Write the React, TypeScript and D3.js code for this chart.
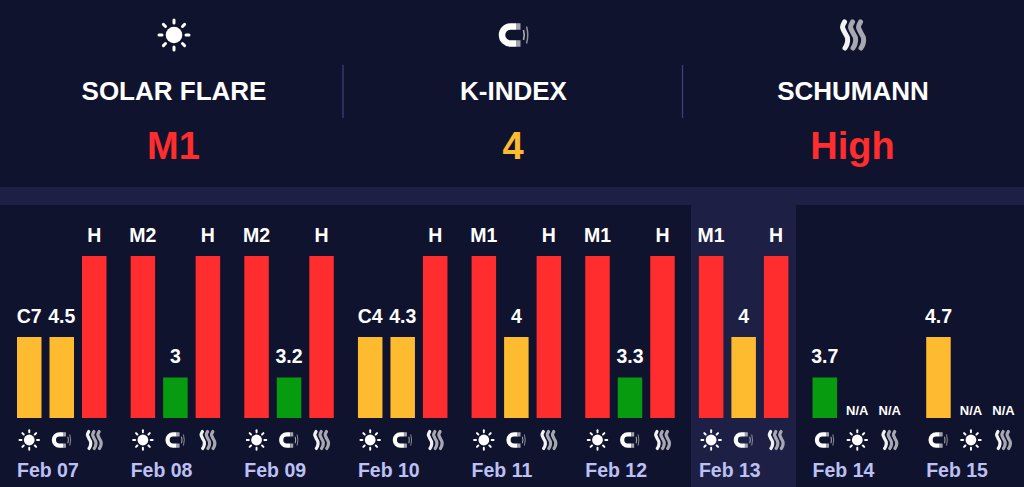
import React from "react";
import * as d3 from "d3";

const days = ["Feb 07","Feb 08","Feb 09","Feb 10","Feb 11","Feb 12","Feb 13","Feb 14","Feb 15"];
const flareLabels = ["C7","M2","M2","C4","M1","M1","M1","N/A","N/A"];
const flareLevels = [2,4,4,2,4,4,4,0,0];
const kLabels = ["4.5","3","3.2","4.3","4","3.3","4","3.7","4.7"];
const kLevels = [2,1,1,2,2,1,2,1,2];
const schLabels = ["H","H","H","H","H","H","H","N/A","N/A"];
const schLevels = [4,4,4,4,4,4,4,0,0];
const kFirst = ["Feb 14","Feb 15"];
const headerTitles = ["SOLAR FLARE","K-INDEX","SCHUMANN"];
const headerValues = ["M1","4","High"];
const headerKinds = ["sun","magnet","wave"];
const headerColors = ["#ff2d2d","#ffbb2f","#ff2d2d"];
const levelColors = ["none","#079b0f","#ffbb2f","#ffbb2f","#ff2d2d"];

const W = 1024, H = 487;
const BG = "#10132e", BAND = "#1d2044";
const FONT = "'Liberation Sans', Arial, sans-serif";

const x = d3.scaleBand<string>().domain(days).range([17, 17 + 113.65 * 9]);
const slot = d3.scaleBand<number>().domain([0, 1, 2]).range([0, 89.5]).paddingInner(0.2462).paddingOuter(0);
const y = d3.scaleLinear().domain([0, 4]).range([418, 256]);
const headerX = d3.scalePoint<number>().domain([0, 1, 2]).range([174, 853]);

const wavePath = d3.line<[number, number]>().curve(d3.curveCatmullRom);
const wavePoints: [number, number][] = [[-0.5, -13], [-2.5, -8], [-0.5, -3], [2.5, 3], [2, 9], [0, 13]];

function Icon({ kind, cx, cy, s }: { kind: string; cx: number; cy: number; s: number }) {
  if (kind === "sun") {
    const rays = d3.range(8).map(i => (i * Math.PI) / 4);
    return (
      <g transform={`translate(${cx},${cy}) scale(${s})`}>
        <circle r={8.3} fill="#fff" />
        {rays.map((a, i) => (
          <line key={i} x1={Math.cos(a) * 12} y1={Math.sin(a) * 12} x2={Math.cos(a) * 15} y2={Math.sin(a) * 15}
            stroke="#fff" strokeWidth={3} strokeLinecap="round" />
        ))}
      </g>
    );
  }
  if (kind === "magnet") {
    return (
      <g transform={`translate(${cx},${cy}) scale(${s})`} fill="none">
        <path d="M5,-8.5 H-0.5 A8.5,8.5 0 0 0 -0.5,8.5 H5" stroke="#fff" strokeWidth={6.5} />
        <path d="M5,-8.5 H9.5 M5,8.5 H9.5" stroke="#a4a4ae" strokeWidth={6.5} />
        <path d="M12.5,-5 Q14,0 12.5,5" stroke="#b4b4bc" strokeWidth={1.5} />
        <path d="M15.5,-8.5 Q18,0 15.5,8.5" stroke="#8f8f9a" strokeWidth={1.5} />
      </g>
    );
  }
  const d = wavePath(wavePoints) || "";
  return (
    <g transform={`translate(${cx},${cy}) scale(${s})`} fill="none" strokeLinecap="round">
      <path d={d} transform="translate(-8,0)" stroke="#f2f2f5" strokeWidth={5} />
      <path d={d} transform="translate(0,0)" stroke="#a8a8b2" strokeWidth={5} />
      <path d={d} transform="translate(8,0)" stroke="#a8a8b2" strokeWidth={5} />
      <path d={d} transform="translate(-4,0)" stroke="#10132e" strokeWidth={0.8} strokeOpacity={0.7} />
      <path d={d} transform="translate(4,0)" stroke="#10132e" strokeWidth={0.8} strokeOpacity={0.7} />
    </g>
  );
}

export default function App() {
  const bw = slot.bandwidth();
  return (
    <svg width={W} height={H} viewBox={`0 0 ${W} ${H}`}
      style={{ position: "absolute", left: 0, top: 0, display: "block", background: BG, fontFamily: FONT }}>
      <rect x={0} y={187} width={W} height={18} fill={BAND} />
      <rect x={691} y={205} width={105} height={282} fill={BAND} />
      <line x1={343} x2={343} y1={65} y2={118} stroke="#3d4183" strokeWidth={1.2} />
      <line x1={682.5} x2={682.5} y1={65} y2={118} stroke="#3d4183" strokeWidth={1.2} />
      {headerTitles.map((t, i) => (
        <g key={t}>
          <Icon kind={headerKinds[i]} cx={headerKinds[i] === "magnet" ? 511 : headerX(i)!} cy={35} s={1} />
          <text x={headerX(i)} y={100} textAnchor="middle" fontSize={26} fontWeight={700} fill="#fff">{t}</text>
          <text x={headerX(i)! - 0.5} y={158.5} textAnchor="middle" fontSize={38} fontWeight={700} fill={headerColors[i]}>{headerValues[i]}</text>
        </g>
      ))}
      {days.map((day, i) => {
        const x0 = x(day)!;
        const kIsFirst = kFirst.includes(day);
        const items = kIsFirst
          ? [
              { label: kLabels[i], level: kLevels[i], kind: "magnet" },
              { label: flareLabels[i], level: flareLevels[i], kind: "sun" },
              { label: schLabels[i], level: schLevels[i], kind: "wave" },
            ]
          : [
              { label: flareLabels[i], level: flareLevels[i], kind: "sun" },
              { label: kLabels[i], level: kLevels[i], kind: "magnet" },
              { label: schLabels[i], level: schLevels[i], kind: "wave" },
            ];
        return (
          <g key={day}>
            {items.map((it, j) => {
              const bx = x0 + slot(j)!;
              const cx = bx + bw / 2;
              const na = it.label === "N/A";
              return (
                <g key={j}>
                  {it.level > 0 && (
                    <rect x={bx} y={y(it.level)} width={bw} height={y(0) - y(it.level)} fill={levelColors[it.level]} />
                  )}
                  <text x={cx} y={na ? 414.5 : y(it.level) - 14.5} textAnchor="middle"
                    fontSize={na ? 13 : 19.5} fontWeight={700} fill="#fff">{it.label}</text>
                  <Icon kind={it.kind} cx={cx + (it.kind === "magnet" ? -2 : 0)} cy={440} s={0.65} />
                </g>
              );
            })}
            <text x={x0} y={476.5} fontSize={19.5} fontWeight={700} fill="#bcc0f5">{day}</text>
          </g>
        );
      })}
    </svg>
  );
}
